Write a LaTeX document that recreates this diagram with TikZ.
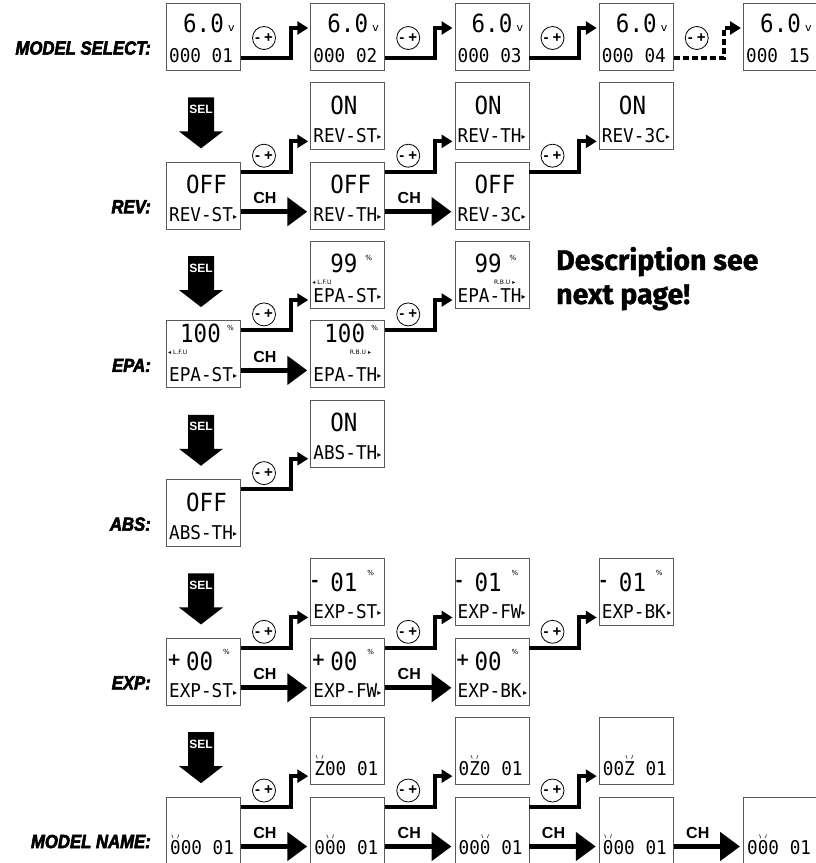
\documentclass[tikz,border=0pt]{standalone}
\usepackage{fontspec}
\usetikzlibrary{arrows.meta,calc}
\newfontfamily\lcdbig{DejaVu Sans Mono}[FakeStretch=0.9]
\newfontfamily\lcdsmall{DejaVu Sans Mono}[FakeStretch=0.93]
\newfontfamily\symf{DejaVu Sans}
\newfontfamily\lblf{Liberation Sans}[FakeStretch=0.88,BoldItalicFeatures={FakeBold=3}]
\newfontfamily\chf{Liberation Sans}
\newfontfamily\descf{Fira Sans}[BoldFeatures={FakeBold=1.2}]
\newcommand\mk{{\symf\fontsize{8}{8}\selectfont\raisebox{2.5pt}{▸}}}
\tikzset{
 lcd/.style={draw=black!65, line width=0.8pt, anchor=north west, minimum width=74pt, minimum height=67pt, inner sep=0pt, fill=white},
 lcdbigt/.style={font=\lcdbig\fontsize{25}{25}\selectfont, inner sep=0pt, anchor=base west},
 lcdsm/.style={font=\lcdsmall\fontsize{19}{19}\selectfont, inner sep=0pt, anchor=base west},
 lcdtiny/.style={font=\symf\fontsize{7}{7}\selectfont, inner sep=0pt, anchor=base west},
 lcdv/.style={font=\symf\fontsize{11}{11}\selectfont, inner sep=0pt, anchor=base west},
 lcdmicro/.style={font=\symf\fontsize{6}{6}\selectfont, inner sep=0pt},
 lcdsign/.style={font=\symf\bfseries\fontsize{17}{17}\selectfont, inner sep=0pt, anchor=base west},
 rowlbl/.style={font=\lblf\bfseries\itshape\fontsize{19}{19}\selectfont, anchor=east, inner sep=0pt},
 pm/.style={circle, draw, line width=0.8pt, minimum size=23pt, inner sep=0pt, font=\chf\bfseries\fontsize{15}{15}\selectfont},
 elbow/.style={line width=4pt, -{Triangle[length=11pt,width=13pt]}, shorten >=2pt},
 elbowdot/.style={elbow, dash pattern=on 6pt off 3pt},
 charrow/.style={line width=5pt, -{Triangle[length=20pt,width=28pt]}, shorten >=3pt},
 chlbl/.style={font=\chf\bfseries\fontsize{16}{16}\selectfont, inner sep=0pt, anchor=base},
 seltxt/.style={font=\chf\bfseries\fontsize{12}{12}\selectfont, text=white, inner sep=0pt},
 blinkmark/.style={line width=0.7pt, black!75},
 desc/.style={font=\descf\bfseries\fontsize{28.5}{28.5}\selectfont, inner sep=0pt, anchor=base west},
}
% model select box
\newcommand\msbox[4]{%
 \node[lcd] (#1) at (#2,#3) {};
 \node[lcdbigt] (#1a) at (#2+17,#3+29) {6.0};
 \node[lcdv] (#1v) at (#2+62,#3+28) {v};
 \node[lcdsm] (#1b) at (#2+3,#3+59) {#4};
}
% two-line box
\newcommand\twobox[5]{%
 \node[lcd] (#1) at (#2,#3) {};
 \node[lcdbigt] (#1a) at (#2+20,#3+32) {#4};
 \node[lcdsm] (#1b) at (#2+3,#3+60) {#5\mk};
}
% exp box
\newcommand\expbox[6]{%
 \node[lcd] (#1) at (#2,#3) {};
 \node[lcdsign] (#1s) at (#2+1,#3+28) {#4};
 \node[lcdbigt] (#1a) at (#2+20,#3+33) {#5};
 \node[lcdtiny] (#1p) at (#2+57,#3+17) {\%};
 \node[lcdsm] (#1b) at (#2+3,#3+60) {#6};
}
% name box
\newcommand\nmbox[5]{%
 \node[lcd] (#1) at (#2,#3) {};
 \node[lcdsm] (#1b) at (#2+4,#3+58) {#4};
 \pgfmathsetmacro\mx{#2+4+10.64*(#5-0.5)}
 \draw[blinkmark] (\mx-3.5,#3+38) -- (\mx-2.2,#3+41.5) (\mx+3.5,#3+38) -- (\mx+2.2,#3+41.5);
}
\newcommand\selarrow[2]{%
 \fill (188,#2+15) -- (214,#2+15) -- (214,#2+49) -- (223,#2+49) -- (201,#2+66) -- (179,#2+49) -- (188,#2+49) -- cycle;
 \node[seltxt] (#1) at (201,#2+27) {SEL};
}
\begin{document}
\begin{tikzpicture}[x=1pt,y=-1pt]
\useasboundingbox (0,0) rectangle (816,863);

% ---------- MODEL SELECT ----------
\node[rowlbl] (l0) at (151,48) {MODEL SELECT:};
\msbox{ms1}{166}{3}{000 01}
\msbox{ms2}{310.25}{3}{000 02}
\msbox{ms3}{454.5}{3}{000 03}
\msbox{ms4}{598.75}{3}{000 04}
\msbox{ms5}{743}{3}{000 15}
\node[pm] (p01) at (264,38) {-\;+};
\node[pm] (p02) at (408.25,38) {-\;+};
\node[pm] (p03) at (552.5,38) {-\;+};
\node[pm] (p04) at (696.75,38) {-\;+};
\draw[elbow] ([yshift=-55pt]ms1.north east) -- ++(50,0) |- ([yshift=-25pt]ms2.north west);
\draw[elbow] ([yshift=-55pt]ms2.north east) -- ++(50,0) |- ([yshift=-25pt]ms3.north west);
\draw[elbow] ([yshift=-55pt]ms3.north east) -- ++(50,0) |- ([yshift=-25pt]ms4.north west);
\draw[elbowdot] ([yshift=-55pt]ms4.north east) -- ++(50,0) |- ([yshift=-25pt]ms5.north west);

% ---------- REV ----------
\selarrow{s1}{82.35}
\node[rowlbl] (l1) at (151,206.7) {REV:};
\twobox{rv2u}{310.25}{82.35}{ON}{REV-ST}
\twobox{rv3u}{454.5}{82.35}{ON}{REV-TH}
\twobox{rv4u}{598.75}{82.35}{ON}{REV-3C}
\twobox{rv1}{166}{161.7}{OFF}{REV-ST}
\twobox{rv2}{310.25}{161.7}{OFF}{REV-TH}
\twobox{rv3}{454.5}{161.7}{OFF}{REV-3C}
\node[pm] (p11) at (264,155.7) {-\;+};
\node[pm] (p12) at (408.25,155.7) {-\;+};
\node[pm] (p13) at (552.5,155.7) {-\;+};
\draw[elbow] ([yshift=-10pt]rv1.north east) -- ++(50,0) |- ([yshift=-59pt]rv2u.north west);
\draw[elbow] ([yshift=-10pt]rv2.north east) -- ++(50,0) |- ([yshift=-59pt]rv3u.north west);
\draw[elbow] ([yshift=-10pt]rv3.north east) -- ++(50,0) |- ([yshift=-59pt]rv4u.north west);
\draw[charrow] ([yshift=-50pt]rv1.north east) -- ([yshift=-50pt]rv2.north west);
\draw[charrow] ([yshift=-50pt]rv2.north east) -- ([yshift=-50pt]rv3.north west);
\node[chlbl] (c11) at (265,203.7) {CH};
\node[chlbl] (c12) at (409.25,203.7) {CH};

% ---------- EPA ----------
\selarrow{s2}{241.05}
\node[rowlbl] (l2) at (151,365.4) {EPA:};
\node[lcd] (ep2u) at (310.25,241.05) {};
\node[lcdbigt] (ep2ua) at (330.25,272.05) {99};
\node[lcdtiny] (ep2up) at (365.25,260.05) {\%};
\node[lcdmicro, anchor=base west] (ep2ul) at (312.25,284.05) {◂ L.F.U};
\node[lcdsm] (ep2ub) at (313.25,302.05) {EPA-ST\mk};
\node[lcd] (ep3u) at (454.5,241.05) {};
\node[lcdbigt] (ep3ua) at (474.5,272.05) {99};
\node[lcdtiny] (ep3up) at (509.5,260.05) {\%};
\node[lcdmicro, anchor=base east] (ep3ul) at (515.5,284.05) {R.B.U ▸};
\node[lcdsm] (ep3ub) at (457.5,302.05) {EPA-TH\mk};
\node[lcd] (ep1) at (166,320.4) {};
\node[lcdbigt] (ep1a) at (180,342.4) {100};
\node[lcdtiny] (ep1p) at (227,330.4) {\%};
\node[lcdmicro, anchor=base west] (ep1l) at (168,354.4) {◂ L.F.U};
\node[lcdsm] (ep1b) at (169,381.4) {EPA-ST\mk};
\node[lcd] (ep2) at (310.25,320.4) {};
\node[lcdbigt] (ep2a) at (324.25,342.4) {100};
\node[lcdtiny] (ep2p) at (371.25,330.4) {\%};
\node[lcdmicro, anchor=base east] (ep2l) at (371.25,354.4) {R.B.U ▸};
\node[lcdsm] (ep2b) at (313.25,381.4) {EPA-TH\mk};
\node[pm] (p21) at (264,314.4) {-\;+};
\node[pm] (p22) at (408.25,314.4) {-\;+};
\draw[elbow] ([yshift=-10pt]ep1.north east) -- ++(50,0) |- ([yshift=-59pt]ep2u.north west);
\draw[elbow] ([yshift=-10pt]ep2.north east) -- ++(50,0) |- ([yshift=-59pt]ep3u.north west);
\draw[charrow] ([yshift=-50pt]ep1.north east) -- ([yshift=-50pt]ep2.north west);
\node[chlbl] (c21) at (265,362.4) {CH};
\node[desc] (d1) at (556,270) {Description see};
\node[desc] (d2) at (556,304) {next page!};

% ---------- ABS ----------
\selarrow{s3}{399.75}
\node[rowlbl] (l3) at (151,524.1) {ABS:};
\twobox{ab2u}{310.25}{399.75}{ON}{ABS-TH}
\twobox{ab1}{166}{479.1}{OFF}{ABS-TH}
\node[pm] (p31) at (264,473.1) {-\;+};
\draw[elbow] ([yshift=-10pt]ab1.north east) -- ++(50,0) |- ([yshift=-59pt]ab2u.north west);

% ---------- EXP ----------
\selarrow{s4}{558.45}
\node[rowlbl] (l4) at (151,682.8) {EXP:};
\expbox{ex2u}{310.25}{558.45}{-}{01}{EXP-ST\mk}
\expbox{ex3u}{454.5}{558.45}{-}{01}{EXP-FW\mk}
\expbox{ex4u}{598.75}{558.45}{-}{01}{EXP-BK\hspace{1.5pt}\mk}
\expbox{ex1}{166}{637.8}{+}{00}{EXP-ST\mk}
\expbox{ex2}{310.25}{637.8}{+}{00}{EXP-FW\mk}
\expbox{ex3}{454.5}{637.8}{+}{00}{EXP-BK\hspace{1.5pt}\mk}
\node[pm] (p41) at (264,631.8) {-\;+};
\node[pm] (p42) at (408.25,631.8) {-\;+};
\node[pm] (p43) at (552.5,631.8) {-\;+};
\draw[elbow] ([yshift=-10pt]ex1.north east) -- ++(50,0) |- ([yshift=-59pt]ex2u.north west);
\draw[elbow] ([yshift=-10pt]ex2.north east) -- ++(50,0) |- ([yshift=-59pt]ex3u.north west);
\draw[elbow] ([yshift=-10pt]ex3.north east) -- ++(50,0) |- ([yshift=-59pt]ex4u.north west);
\draw[charrow] ([yshift=-50pt]ex1.north east) -- ([yshift=-50pt]ex2.north west);
\draw[charrow] ([yshift=-50pt]ex2.north east) -- ([yshift=-50pt]ex3.north west);
\node[chlbl] (c41) at (265,679.8) {CH};
\node[chlbl] (c42) at (409.25,679.8) {CH};

% ---------- MODEL NAME ----------
\selarrow{s5}{717.15}
\node[rowlbl] (l5) at (151,841.5) {MODEL NAME:};
\nmbox{nm2u}{310.25}{717.15}{Z00 01}{1}
\nmbox{nm3u}{454.5}{717.15}{0Z0 01}{2}
\nmbox{nm4u}{598.75}{717.15}{00Z 01}{3}
\nmbox{nm1}{166}{796.5}{000 01}{1}
\nmbox{nm2}{310.25}{796.5}{000 01}{2}
\nmbox{nm3}{454.5}{796.5}{000 01}{3}
\nmbox{nm4}{598.75}{796.5}{000 01}{1}
\nmbox{nm5}{743}{796.5}{000 01}{2}
\node[pm] (p51) at (264,790.5) {-\;+};
\node[pm] (p52) at (408.25,790.5) {-\;+};
\node[pm] (p53) at (552.5,790.5) {-\;+};
\draw[elbow] ([yshift=-10pt]nm1.north east) -- ++(50,0) |- ([yshift=-59pt]nm2u.north west);
\draw[elbow] ([yshift=-10pt]nm2.north east) -- ++(50,0) |- ([yshift=-59pt]nm3u.north west);
\draw[elbow] ([yshift=-10pt]nm3.north east) -- ++(50,0) |- ([yshift=-59pt]nm4u.north west);
\draw[charrow] ([yshift=-50pt]nm1.north east) -- ([yshift=-50pt]nm2.north west);
\draw[charrow] ([yshift=-50pt]nm2.north east) -- ([yshift=-50pt]nm3.north west);
\draw[charrow] ([yshift=-50pt]nm3.north east) -- ([yshift=-50pt]nm4.north west);
\draw[charrow] ([yshift=-50pt]nm4.north east) -- ([yshift=-50pt]nm5.north west);
\node[chlbl] (c51) at (265,838.5) {CH};
\node[chlbl] (c52) at (409.25,838.5) {CH};
\node[chlbl] (c53) at (553.5,838.5) {CH};
\node[chlbl] (c54) at (697.75,838.5) {CH};
\end{tikzpicture}
\end{document}
